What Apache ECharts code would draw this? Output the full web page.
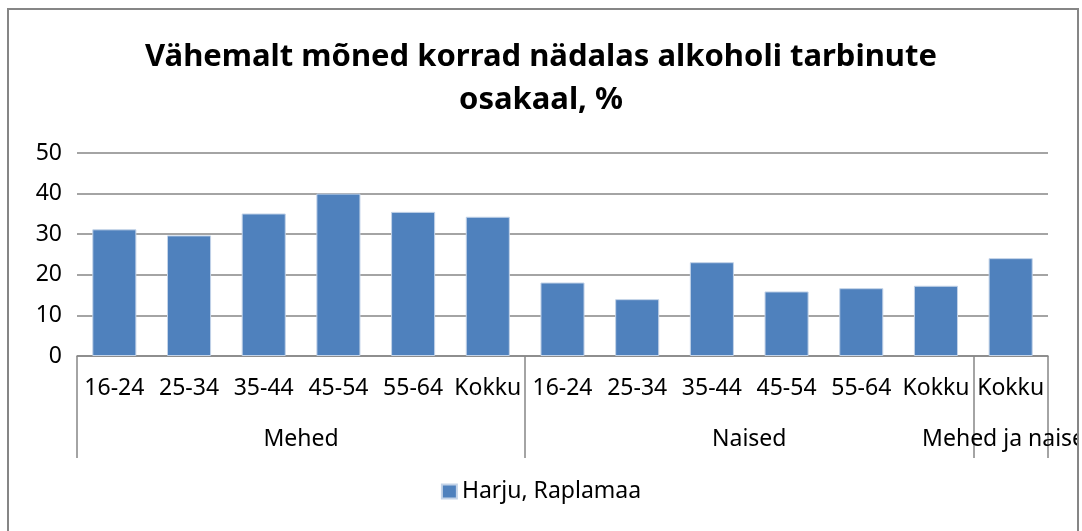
<!DOCTYPE html>
<html>
<head>
<meta charset="utf-8">
<script src="https://cdn.jsdelivr.net/npm/echarts@6/dist/echarts.min.js"></script>
<style>
  html, body { margin: 0; padding: 0; background: #fff; }
  #chart { width: 1082px; height: 531px; }
</style>
</head>
<body>
<div id="chart"></div>
<script>
const ageGroups = ["16-24", "25-34", "35-44", "45-54", "55-64", "Kokku",
                   "16-24", "25-34", "35-44", "45-54", "55-64", "Kokku", "Kokku"];
const genderGroups = ["Mehed", "Naised", "Mehed ja naised"];
// where each gender group starts/ends on the category axis (in category units)
const groupBounds = [0, 6, 12, 13];
const values = [31.2, 29.7, 35.1, 40.0, 35.5, 34.3,
                18.1, 14.0, 23.1, 15.9, 16.7, 17.3, 24.1];
const yTicks = [0, 10, 20, 30, 40, 50];

const font = "Noto Sans";
const grey = "#868686";
const blue = "#4F81BD";

const groupCenters = genderGroups.map((g, i) => (groupBounds[i] + groupBounds[i + 1]) / 2);

const chart = echarts.init(document.getElementById("chart"));
chart.setOption({
  animation: false,
  textStyle: { fontFamily: font, color: "#000" },
  title: {
    text: "Vähemalt mõned korrad nädalas alkoholi tarbinute\nosakaal, %",
    left: "center",
    top: 31,
    textStyle: { fontFamily: font, fontSize: 31, fontWeight: "bold", lineHeight: 43, color: "#000" }
  },
  legend: {
    bottom: 23,
    left: "center",
    icon: "rect",
    itemWidth: 15,
    itemHeight: 14,
    itemGap: 6,
    textStyle: { fontFamily: font, fontSize: 23, color: "#000" },
    data: ["Harju, Raplamaa"]
  },
  grid: { left: 77, right: 34, top: 153, bottom: 175, containLabel: false, outerBoundsMode: "none" },
  xAxis: [
    {
      type: "category",
      data: ageGroups,
      position: "bottom",
      axisLine: { lineStyle: { color: grey, width: 1.5 } },
      axisTick: { show: false },
      axisLabel: { interval: 0, margin: 21, fontSize: 23, color: "#000", fontFamily: font }
    },
    {
      type: "value",
      min: 0,
      max: 13,
      position: "bottom",
      axisLine: { show: false },
      splitLine: { show: false },
      axisTick: {
        show: true,
        customValues: groupBounds,
        length: 102,
        lineStyle: { color: grey, width: 1.5 }
      },
      axisLabel: {
        customValues: groupCenters,
        margin: 72,
        fontSize: 23,
        color: "#000",
        fontFamily: font,
        formatter: v => genderGroups[groupCenters.indexOf(v)] || ""
      }
    }
  ],
  yAxis: {
    type: "value",
    min: yTicks[0],
    max: yTicks[yTicks.length - 1],
    interval: 10,
    axisLine: { show: false },
    axisTick: { show: false },
    axisLabel: { margin: 15, fontSize: 23, color: "#000", fontFamily: font },
    splitLine: { lineStyle: { color: grey, width: 1.5 } }
  },
  series: [
    {
      name: "Harju, Raplamaa",
      type: "bar",
      data: values,
      barCategoryGap: "41%",
      itemStyle: { color: blue, borderColor: "#c3d3e8", borderWidth: 1 }
    }
  ],
  graphic: [
    { type: "rect", z: 100, shape: { x: 1078, y: 0, width: 10, height: 531 }, style: { fill: "#fff" } },
    { type: "rect", z: 101, shape: { x: 8, y: 9, width: 1070, height: 600 },
      style: { fill: null, stroke: grey, lineWidth: 2 } }
  ]
});
</script>
</body>
</html>
